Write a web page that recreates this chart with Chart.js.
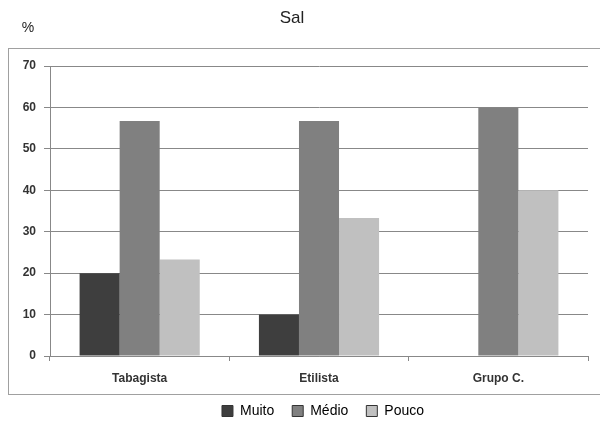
<!DOCTYPE html>
<html>
<head>
<meta charset="utf-8">
<script src="https://cdn.jsdelivr.net/npm/chart.js@4/dist/chart.umd.min.js"></script>
<style>
  body { margin: 0; background: #fff; }
  #wrap { position: relative; width: 600px; height: 422px; }
  #frame { position: absolute; left: 8px; top: 48px; width: 600px; height: 347px; border: 1px solid #a0a0a0; box-sizing: border-box; }
  canvas { position: absolute; left: 0; top: 0; }
</style>
</head>
<body>
<div id="wrap">
  <div id="frame"></div>
  <canvas id="chart" width="600" height="422"></canvas>
</div>
<script>
var categorias = ["Tabagista", "Etilista", "Grupo C."];
var muito = [20, 10, 0];
var medio = [56.7, 56.7, 60];
var pouco = [23.3, 33.3, 40];
var seriesNomes = ["Muito", "Médio", "Pouco"];
var ticksY = [0, 10, 20, 30, 40, 50, 60, 70];

var textos = {
  id: 'textos',
  afterLayout: function(chart){
    // legenda um pouco deslocada para a direita, como no original
    chart.legend.left += 29;
    chart.legend.right += 29;
  },
  afterDraw: function(chart){
    var c = chart.ctx;
    c.save();
    c.fillStyle = '#222';
    c.textAlign = 'center';
    c.textBaseline = 'middle';
    c.font = '17px "Liberation Sans", Arial, sans-serif';
    c.fillText('Sal', 292, 18);
    c.font = '14px "Liberation Sans", Arial, sans-serif';
    c.fillText('%', 28, 28);
    c.restore();
  }
};

var ctx = document.getElementById('chart');
var chartData = {
  labels: categorias,
  datasets: [
    { label: seriesNomes[0], data: muito, backgroundColor: '#3e3e3e', borderColor: '#333' },
    { label: seriesNomes[1], data: medio, backgroundColor: '#808080', borderColor: '#333' },
    { label: seriesNomes[2], data: pouco, backgroundColor: '#c0c0c0', borderColor: '#333' }
  ]
};

new Chart(ctx, {
  type: 'bar',
  data: chartData,
  plugins: [textos],
  options: {
    responsive: false,
    animation: false,
    layout: { padding: { top: 66, right: 12, left: 0, bottom: -6 } },
    datasets: { bar: { categoryPercentage: 0.67, barPercentage: 1 } },
    plugins: {
      title: { display: false },
      tooltip: { enabled: false },
      legend: {
        position: 'bottom',
        labels: {
          boxWidth: 11, boxHeight: 11, padding: 18,
          color: '#222',
          font: { family: '"Liberation Sans", Arial, sans-serif', size: 14 },
          generateLabels: function(chart){
            return chart.data.datasets.map(function(ds, i){
              return { text: ds.label, fillStyle: ds.backgroundColor, strokeStyle: '#333', lineWidth: 1, datasetIndex: i };
            });
          }
        }
      }
    },
    scales: {
      x: {
        grid: { drawOnChartArea: false, offset: true, tickLength: 5, color: '#888' },
        border: { color: '#888' },
        ticks: { color: '#333', padding: 10, font: { family: '"Liberation Sans", Arial, sans-serif', size: 12, weight: 'bold' } },
        afterFit: function(s){ s.height = 30; }
      },
      y: {
        min: 0, max: 70,
        afterBuildTicks: function(s){ s.ticks = ticksY.map(function(v){ return { value: v }; }); },
        grid: { color: '#888', tickLength: 6 },
        border: { color: '#888' },
        ticks: { color: '#333', padding: 8, font: { family: '"Liberation Sans", Arial, sans-serif', size: 12, weight: 'bold' } },
        afterFit: function(s){ s.width = 50; }
      }
    }
  }
});
</script>
</body>
</html>
